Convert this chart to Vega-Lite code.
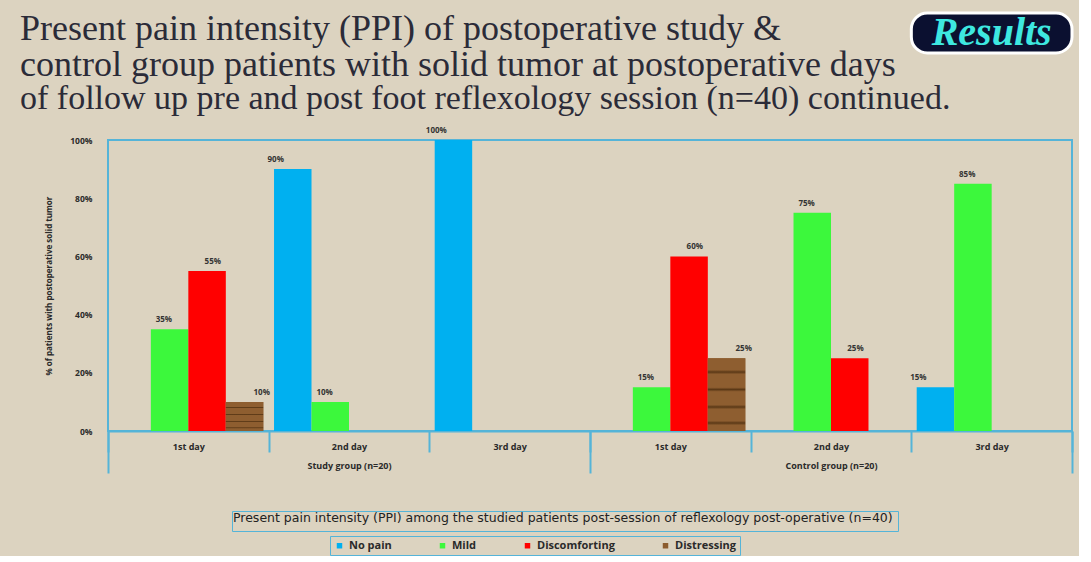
{
  "$schema": "https://vega.github.io/schema/vega-lite/v6.json",
  "width": 964,
  "height": 291,
  "padding": {"left": 20, "top": 10, "right": 5, "bottom": 0},
  "background": "#dcd3c0",
  "config": {
    "view": {"stroke": "#55b4d8", "strokeWidth": 2},
    "font": "Open Sans",
    "axisY": {"tickCount": 10, "labelOverlap": false}
  },
  "title": {
    "text": ["Present pain intensity (PPI) of postoperative study &", "control group patients with solid tumor at postoperative days"],
    "subtitle": "of follow up pre and post foot reflexology session (n=40) continued.",
    "anchor": "start",
    "frame": "group",
    "dx": -88,
    "font": "Liberation Serif",
    "fontSize": 36,
    "lineHeight": 36,
    "fontWeight": "normal",
    "color": "#2b2b38",
    "subtitleFont": "Liberation Serif",
    "subtitleFontSize": 34,
    "subtitleColor": "#2b2b38",
    "subtitlePadding": -2,
    "offset": -105,
    "limit": 1100
  },
  "datasets": {
    "bars": [
      {"cat": "Study|1st day", "series": "Mild", "v": 0.35},
      {"cat": "Study|1st day", "series": "Discomforting", "v": 0.55},
      {"cat": "Study|1st day", "series": "Distressing", "v": 0.10},
      {"cat": "Study|2nd day", "series": "No pain", "v": 0.90},
      {"cat": "Study|2nd day", "series": "Mild", "v": 0.10},
      {"cat": "Study|3rd day", "series": "No pain", "v": 1.00},
      {"cat": "Control|1st day", "series": "Mild", "v": 0.15},
      {"cat": "Control|1st day", "series": "Discomforting", "v": 0.60},
      {"cat": "Control|1st day", "series": "Distressing", "v": 0.25},
      {"cat": "Control|2nd day", "series": "Mild", "v": 0.75},
      {"cat": "Control|2nd day", "series": "Discomforting", "v": 0.25},
      {"cat": "Control|3rd day", "series": "No pain", "v": 0.15},
      {"cat": "Control|3rd day", "series": "Mild", "v": 0.85}
    ],
    "groups": [
      {"group": "Study group (n=20)", "cap": "caption"},
      {"group": "Control group (n=20)", "cap": "caption"}
    ]
  },
  "layer": [
    {
      "data": {"name": "bars"},
      "mark": {"type": "bar"},
      "encoding": {
        "x": {
          "field": "cat", "type": "nominal",
          "scale": {"domain": ["Study|1st day", "Study|2nd day", "Study|3rd day", "Control|1st day", "Control|2nd day", "Control|3rd day"], "paddingInner": 0, "paddingOuter": 0},
          "axis": {
            "orient": "bottom", "title": null, "labelAngle": 0,
            "labelExpr": "split(datum.value, '|')[1]",
            "tickBand": "extent", "ticks": true, "tickSize": 21, "tickWidth": 2, "tickColor": "#55b4d8",
            "domain": true, "domainColor": "#55b4d8", "domainWidth": 2,
            "labelPadding": -10, "labelFontSize": 9, "labelFontWeight": "bold", "labelColor": "#2a2a2a", "labelFont": "Open Sans"
          }
        },
        "xOffset": {"field": "series", "type": "nominal", "scale": {"domain": ["No pain", "Mild", "Discomforting", "Distressing"], "paddingInner": 0, "paddingOuter": 0.143}},
        "y": {
          "field": "v", "type": "quantitative",
          "scale": {"domain": [0, 1], "nice": false},
          "axis": {
            "title": "% of patients with postoperative solid tumor",
            "titleFontSize": 8, "titleFontWeight": "bold", "titleColor": "#2a2a2a", "titlePadding": 16, "titleFont": "Open Sans",
            "format": ".0%", "values": [0, 0.1, 0.2, 0.3, 0.4, 0.5, 0.6, 0.7, 0.8, 0.9, 1], "tickCount": 10, "labelOverlap": false,
            "grid": false, "ticks": false, "domain": false,
            "labelPadding": 16, "labelFontSize": 8.5, "labelFontWeight": "bold", "labelColor": "#2a2a2a", "labelFont": "Open Sans"
          }
        },
        "color": {
          "field": "series", "type": "nominal",
          "scale": {"domain": ["No pain", "Mild", "Discomforting", "Distressing"], "range": ["#00b0f0", "#3cf83c", "#ff0000", "#8c5c2e"]},
          "legend": {
            "title": null, "orient": "none", "legendX": 222, "legendY": 396, "direction": "horizontal",
            "symbolType": "square", "symbolSize": 30, "symbolStrokeWidth": 0,
            "labelFontSize": 11, "labelFontWeight": "bold", "labelColor": "#2a2a2a", "labelFont": "Open Sans",
            "columnPadding": 45, "padding": 4, "strokeColor": "#55b4d8", "labelOffset": 4
          }
        }
      }
    },
    {
      "data": {"name": "bars"},
      "transform": [{"filter": "datum.series == 'Distressing'"}],
      "mark": {
        "type": "bar",
        "fill": {
          "gradient": "linear", "x1": 0, "y1": 0, "x2": 0, "y2": 1,
          "stops": [
            {"offset": 0, "color": "#8e5e30"},
            {"offset": 0.16, "color": "#8e5e30"},
            {"offset": 0.19, "color": "#5a3816"},
            {"offset": 0.22, "color": "#8e5e30"},
            {"offset": 0.4, "color": "#8e5e30"},
            {"offset": 0.43, "color": "#5a3816"},
            {"offset": 0.46, "color": "#8e5e30"},
            {"offset": 0.64, "color": "#8e5e30"},
            {"offset": 0.67, "color": "#5a3816"},
            {"offset": 0.7, "color": "#8e5e30"},
            {"offset": 0.86, "color": "#8e5e30"},
            {"offset": 0.89, "color": "#5a3816"},
            {"offset": 0.92, "color": "#8e5e30"},
            {"offset": 1, "color": "#8e5e30"}
          ]
        }
      },
      "encoding": {
        "x": {"field": "cat", "type": "nominal", "axis": null, "scale": {"domain": ["Study|1st day", "Study|2nd day", "Study|3rd day", "Control|1st day", "Control|2nd day", "Control|3rd day"], "paddingInner": 0, "paddingOuter": 0}},
        "xOffset": {"field": "series", "type": "nominal", "scale": {"domain": ["No pain", "Mild", "Discomforting", "Distressing"], "paddingInner": 0, "paddingOuter": 0.143}},
        "y": {
          "field": "v", "type": "quantitative",
          "axis": {
            "title": "% of patients with postoperative solid tumor",
            "titleFontSize": 8, "titleFontWeight": "bold", "titleColor": "#2a2a2a", "titlePadding": 16, "titleFont": "Open Sans",
            "format": ".0%", "values": [0, 0.1, 0.2, 0.3, 0.4, 0.5, 0.6, 0.7, 0.8, 0.9, 1], "tickCount": 10, "labelOverlap": false,
            "grid": false, "ticks": false, "domain": false,
            "labelPadding": 16, "labelFontSize": 8.5, "labelFontWeight": "bold", "labelColor": "#2a2a2a", "labelFont": "Open Sans"
          }
        }
      }
    },
    {
      "data": {"name": "bars"},
      "mark": {"type": "text", "baseline": "bottom", "dy": -5, "fontSize": 8, "fontWeight": "bold", "color": "#333333", "font": "Open Sans"},
      "encoding": {
        "x": {"field": "cat", "type": "nominal", "axis": null, "scale": {"domain": ["Study|1st day", "Study|2nd day", "Study|3rd day", "Control|1st day", "Control|2nd day", "Control|3rd day"], "paddingInner": 0, "paddingOuter": 0}},
        "xOffset": {"field": "series", "type": "nominal", "scale": {"domain": ["No pain", "Mild", "Discomforting", "Distressing"], "paddingInner": 0, "paddingOuter": 0.143}},
        "y": {
          "field": "v", "type": "quantitative",
          "axis": {
            "title": "% of patients with postoperative solid tumor",
            "titleFontSize": 8, "titleFontWeight": "bold", "titleColor": "#2a2a2a", "titlePadding": 16, "titleFont": "Open Sans",
            "format": ".0%", "values": [0, 0.1, 0.2, 0.3, 0.4, 0.5, 0.6, 0.7, 0.8, 0.9, 1], "tickCount": 10, "labelOverlap": false,
            "grid": false, "ticks": false, "domain": false,
            "labelPadding": 16, "labelFontSize": 8.5, "labelFontWeight": "bold", "labelColor": "#2a2a2a", "labelFont": "Open Sans"
          }
        },
        "text": {"field": "v", "type": "quantitative", "format": ".0%"}
      }
    },
    {
      "data": {"values": [{"label": "Results"}]},
      "mark": {"type": "rect", "fill": "#0b1030", "stroke": "#ffffff", "strokeWidth": 3, "cornerRadius": 16},
      "encoding": {
        "x": {"datum": "Control|3rd day", "axis": null, "scale": {"domain": ["Study|1st day", "Study|2nd day", "Study|3rd day", "Control|1st day", "Control|2nd day", "Control|3rd day"], "paddingInner": 0, "paddingOuter": 0}},
        "y": {
          "datum": 1.436,
          "axis": {
            "title": "% of patients with postoperative solid tumor",
            "titleFontSize": 8, "titleFontWeight": "bold", "titleColor": "#2a2a2a", "titlePadding": 16, "titleFont": "Open Sans",
            "format": ".0%", "values": [0, 0.1, 0.2, 0.3, 0.4, 0.5, 0.6, 0.7, 0.8, 0.9, 1], "tickCount": 10, "labelOverlap": false,
            "grid": false, "ticks": false, "domain": false,
            "labelPadding": 16, "labelFontSize": 8.5, "labelFontWeight": "bold", "labelColor": "#2a2a2a", "labelFont": "Open Sans"
          }
        },
        "y2": {"datum": 1.299}
      }
    },
    {
      "data": {"values": [{"label": "Results"}]},
      "mark": {"type": "text", "font": "Liberation Serif", "fontStyle": "italic", "fontWeight": "bold", "fontSize": 40, "color": "#3ee8e0", "baseline": "middle"},
      "encoding": {
        "x": {"datum": "Control|3rd day", "bandPosition": 0.5, "axis": null, "scale": {"domain": ["Study|1st day", "Study|2nd day", "Study|3rd day", "Control|1st day", "Control|2nd day", "Control|3rd day"], "paddingInner": 0, "paddingOuter": 0}},
        "y": {
          "datum": 1.367,
          "axis": {
            "title": "% of patients with postoperative solid tumor",
            "titleFontSize": 8, "titleFontWeight": "bold", "titleColor": "#2a2a2a", "titlePadding": 16, "titleFont": "Open Sans",
            "format": ".0%", "values": [0, 0.1, 0.2, 0.3, 0.4, 0.5, 0.6, 0.7, 0.8, 0.9, 1], "tickCount": 10, "labelOverlap": false,
            "grid": false, "ticks": false, "domain": false,
            "labelPadding": 16, "labelFontSize": 8.5, "labelFontWeight": "bold", "labelColor": "#2a2a2a", "labelFont": "Open Sans"
          }
        },
        "text": {"field": "label", "type": "nominal"}
      }
    },
    {
      "data": {"name": "groups"},
      "mark": {"type": "point", "opacity": 0},
      "encoding": {
        "x": {
          "field": "group", "type": "nominal",
          "scale": {"type": "band", "domain": ["Study group (n=20)", "Control group (n=20)"], "paddingInner": 0, "paddingOuter": 0},
          "axis": {
            "orient": "bottom", "title": null, "labelAngle": 0, "domain": false,
            "tickBand": "extent", "ticks": true, "tickSize": 42, "tickWidth": 2, "tickColor": "#55b4d8",
            "labelPadding": -12, "labelFontSize": 9, "labelFontWeight": "bold", "labelColor": "#2a2a2a", "labelFont": "Open Sans"
          }
        },
        "shape": {
          "field": "cap", "type": "nominal",
          "legend": {
            "title": "Present pain intensity (PPI) among the studied patients post-session  of reflexology post-operative (n=40)",
            "orient": "none", "legendX": 124, "legendY": 371,
            "titleFont": "DejaVu Sans", "titleFontSize": 12.5, "titleFontWeight": "normal", "titleColor": "#222222", "titleLimit": 1000, "titlePadding": 0,
            "symbolSize": 0, "symbolOpacity": 0, "labelExpr": "''", "labelFontSize": 0, "rowPadding": 0,
            "padding": 1, "strokeColor": "#55b4d8"
          }
        }
      }
    }
  ],
  "resolve": {"scale": {"x": "independent", "xOffset": "independent"}}
}
